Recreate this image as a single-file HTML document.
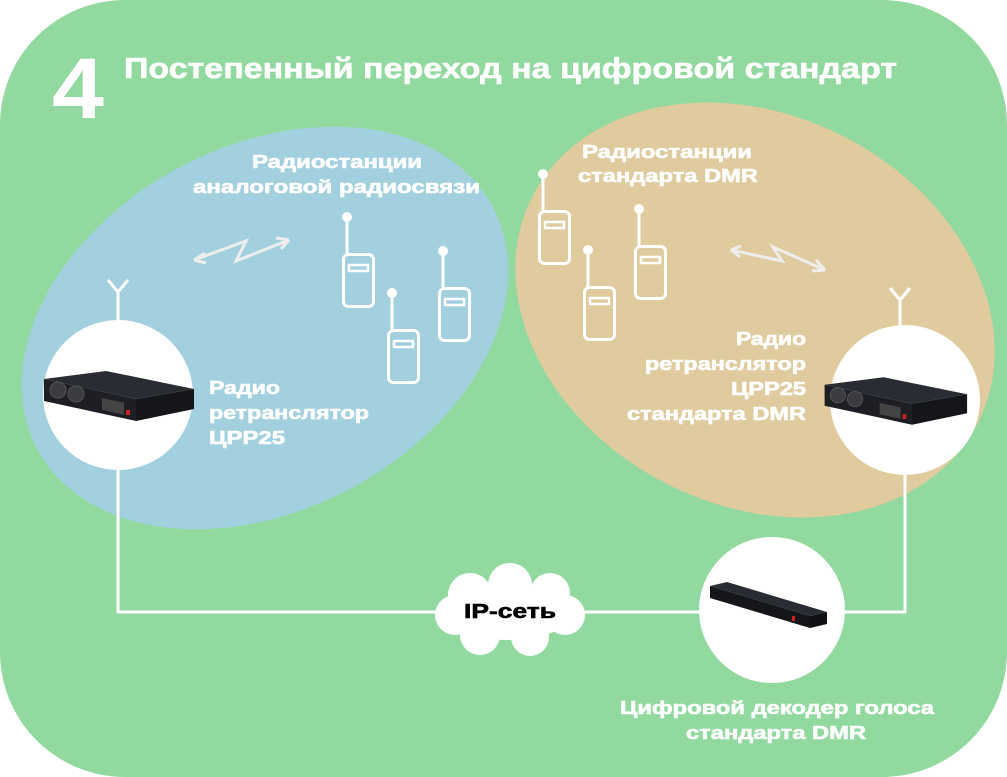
<!DOCTYPE html>
<html><head><meta charset="utf-8"><style>
html,body{margin:0;padding:0;background:#fff;}
svg{display:block}
text{font-family:"Liberation Sans",sans-serif;font-weight:bold;fill:#fff}
.l{stroke:#fff;stroke-width:0.6px}
</style></head><body>
<svg width="1007" height="777" viewBox="0 0 1007 777" xmlns="http://www.w3.org/2000/svg">
<defs>
<g id="radio">
<circle cx="5" cy="0" r="5" fill="#fff"/>
<line x1="5" y1="0" x2="5" y2="37" stroke="#fff" stroke-width="3"/>
<rect x="1.5" y="37.5" width="30" height="52" rx="5" fill="none" stroke="#fff" stroke-width="3"/>
<rect x="7" y="48" width="19" height="6" fill="none" stroke="#fff" stroke-width="2.5"/>
</g>
<g id="rack">
<polygon points="-72,-16 -10,-24 78,-6 20,4" fill="#2a2c33"/>
<polygon points="-72,-16 20,4 20,26 -72,6" fill="#1d1f24"/>
<polygon points="20,4 78,-6 78,14 20,26" fill="#15161a"/>
<circle cx="-58" cy="-5" r="8" fill="#3a3c42" stroke="#555" stroke-width="1"/>
<circle cx="-40" cy="-1" r="8" fill="#3a3c42" stroke="#555" stroke-width="1"/>
<rect x="-14" y="6" width="22" height="12" fill="#444" transform="skewY(12)"/>
<rect x="10" y="15" width="4" height="5" fill="#c22"/>
</g>
</defs>
<rect x="0" y="0" width="1007" height="777" rx="125" fill="#91D99F"/>
<ellipse cx="265" cy="328" rx="258" ry="182" transform="rotate(-28 265 328)" fill="#A2D0DF"/>
<ellipse cx="755" cy="310" rx="250" ry="195" transform="rotate(27 755 310)" fill="#DFCB9E"/>

<text x="52" y="118" font-size="86" textLength="52" lengthAdjust="spacingAndGlyphs">4</text>
<text class="l" x="124" y="78" font-size="29" textLength="773" lengthAdjust="spacingAndGlyphs">Постепенный переход на цифровой стандарт</text>

<polyline points="118,460 118,612 440,612" fill="none" stroke="#fff" stroke-width="3"/>
<polyline points="580,612 705,612" fill="none" stroke="#fff" stroke-width="3"/>
<polyline points="905,470 905,612 840,612" fill="none" stroke="#fff" stroke-width="3"/>

<g stroke="#fff" stroke-width="3" fill="none">
<path d="M118,325 V290 M118,292 L108,280 M118,292 L128,280"/>
<path d="M900,330 V298 M900,300 L890,288 M900,300 L910,288"/>
</g>
<circle cx="118" cy="395" r="75" fill="#fff"/>
<circle cx="905" cy="400" r="75" fill="#fff"/>
<circle cx="772" cy="610" r="73" fill="#fff"/>
<use href="#rack" x="116" y="395"/>
<use href="#rack" transform="translate(893,400) scale(0.95)"/>
<g transform="translate(772,608)">
<polygon points="-62,-22 -45,-26 55,4 38,8" fill="#2a2c33"/>
<polygon points="-62,-22 38,8 38,20 -62,-10" fill="#15161a"/>
<polygon points="38,8 55,4 55,16 38,20" fill="#101114"/>
<rect x="20" y="8" width="3" height="5" fill="#c22"/>
</g>

<g fill="#fff">
<ellipse cx="508" cy="612" rx="65" ry="28"/>
<circle cx="470" cy="595" r="22"/><circle cx="510" cy="585" r="22"/><circle cx="550" cy="593" r="20"/>
<circle cx="455" cy="615" r="20"/><circle cx="565" cy="615" r="20"/>
<circle cx="480" cy="635" r="20"/><circle cx="530" cy="637" r="19"/>
</g>
<text x="464" y="618" font-size="20" textLength="92" lengthAdjust="spacingAndGlyphs" style="fill:#000;stroke:#000;stroke-width:0.6px">IP-сеть</text>

<use href="#radio" x="342" y="217"/>
<use href="#radio" x="387" y="293"/>
<use href="#radio" x="438" y="251"/>
<use href="#radio" x="538" y="174"/>
<use href="#radio" x="583" y="250"/>
<use href="#radio" x="634" y="209"/>

<g stroke="#eee" stroke-width="3" fill="none" stroke-linejoin="miter">
<path d="M194,260 L246,241 L236,261 L289,240 M194,260 L205,253 M194,260 L206,263 M289,240 L276,238 M289,240 L281,249"/>
<path d="M731,250 L782,261 L773,247 L825,270 M731,250 L741,246 M731,250 L740,257 M825,270 L816,260 M825,270 L812,271"/>
</g>

<g class="l" font-size="18">
<text x="252" y="168" textLength="170" lengthAdjust="spacingAndGlyphs">Радиостанции</text>
<text x="193" y="193" textLength="287" lengthAdjust="spacingAndGlyphs">аналоговой радиосвязи</text>
<text x="582" y="158" textLength="170" lengthAdjust="spacingAndGlyphs">Радиостанции</text>
<text x="578" y="182" textLength="180" lengthAdjust="spacingAndGlyphs">стандарта DMR</text>
<text x="209" y="394" textLength="71" lengthAdjust="spacingAndGlyphs">Радио</text>
<text x="209" y="419" textLength="160" lengthAdjust="spacingAndGlyphs">ретранслятор</text>
<text x="209" y="444" textLength="76" lengthAdjust="spacingAndGlyphs">ЦРР25</text>
<text x="736" y="345" textLength="70" lengthAdjust="spacingAndGlyphs">Радио</text>
<text x="645" y="370" textLength="161" lengthAdjust="spacingAndGlyphs">ретранслятор</text>
<text x="731" y="395" textLength="75" lengthAdjust="spacingAndGlyphs">ЦРР25</text>
<text x="627" y="420" textLength="179" lengthAdjust="spacingAndGlyphs">стандарта DMR</text>
<text x="620" y="714" textLength="314" lengthAdjust="spacingAndGlyphs">Цифровой декодер голоса</text>
<text x="686" y="739" textLength="180" lengthAdjust="spacingAndGlyphs">стандарта DMR</text>
</g>
</svg>
</body></html>
